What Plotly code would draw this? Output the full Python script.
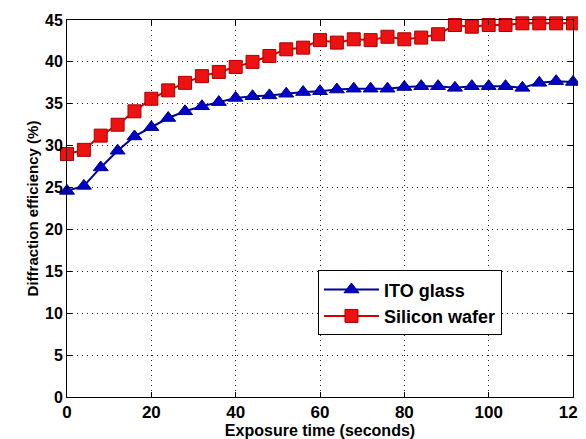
import plotly.graph_objects as go

time_s = [0, 4, 8, 12, 16, 20, 24, 28, 32, 36, 40, 44, 48, 52, 56, 60,
          64, 68, 72, 76, 80, 84, 88, 92, 96, 100, 104, 108, 112, 116, 120]
ito_glass = [24.6, 25.2, 27.4, 29.4, 31.1, 32.2, 33.3, 34.1, 34.7, 35.2, 35.7, 35.9,
             36.0, 36.2, 36.4, 36.5, 36.7, 36.8, 36.8, 36.8, 37.0, 37.1, 37.1, 36.9,
             37.1, 37.1, 37.1, 36.9, 37.5, 37.7, 37.6]
silicon_wafer = [29.0, 29.5, 31.2, 32.5, 34.1, 35.6, 36.6, 37.5, 38.3, 38.8, 39.4, 40.0,
                 40.7, 41.5, 41.7, 42.6, 42.3, 42.7, 42.6, 43.0, 42.7, 42.9, 43.3, 44.4,
                 44.2, 44.4, 44.4, 44.6, 44.6, 44.6, 44.6]

fig = go.Figure()
fig.add_trace(go.Scatter(
    x=time_s, y=ito_glass, name="ITO glass", mode="lines+markers",
    line=dict(color="#0000A0", width=2),
    marker=dict(symbol="triangle-up", size=13, color="#0000CC",
                line=dict(color="#000080", width=1)),
    cliponaxis=False,
))
fig.add_trace(go.Scatter(
    x=time_s, y=silicon_wafer, name="Silicon wafer", mode="lines+markers",
    line=dict(color="#CC0000", width=2),
    marker=dict(symbol="square", size=13, color="#EE1111",
                line=dict(color="#AA0000", width=1)),
    cliponaxis=False,
))

font_family = "Liberation Sans, Arial, sans-serif"
grid_dash = "1px,4px"
# the page body adds an 8px offset, so the figure is sized/placed to compensate
fig.update_layout(
    width=578, height=431,
    margin=dict(l=59, r=13, t=12, b=42),
    paper_bgcolor="white", plot_bgcolor="white",
    font=dict(family=font_family, color="black"),
    showlegend=True,
    legend=dict(
        x=0.496, y=0.336, xanchor="left", yanchor="top",
        bgcolor="white", bordercolor="black", borderwidth=1,
        font=dict(size=18, family=font_family, weight="bold"),
        itemwidth=55,
    ),
    xaxis=dict(
        range=[0, 120], tickvals=[0, 20, 40, 60, 80, 100, 120],
        showgrid=True, gridcolor="#222222", griddash=grid_dash, gridwidth=1,
        showline=True, linecolor="black", linewidth=1, mirror="ticks",
        ticks="inside", ticklen=5, tickcolor="black",
        tickfont=dict(size=17, family=font_family, weight="bold"),
        ticklabeloverflow="allow",
        title=dict(text="Exposure time (seconds)", standoff=1,
                   font=dict(size=16, family=font_family, weight="bold")),
        zeroline=False, automargin=False,
    ),
    yaxis=dict(
        range=[0, 45], tickvals=[0, 5, 10, 15, 20, 25, 30, 35, 40, 45],
        showgrid=True, gridcolor="#222222", griddash=grid_dash, gridwidth=1,
        showline=True, linecolor="black", linewidth=1, mirror="ticks",
        ticks="inside", ticklen=5, tickcolor="black",
        tickfont=dict(size=16, family=font_family, weight="bold"),
        ticklabeloverflow="allow",
        title=dict(text="Diffraction efficiency (%)", standoff=2,
                   font=dict(size=15, family=font_family, weight="bold")),
        zeroline=False, automargin=False,
    ),
)

fig.write_html("out.html")
